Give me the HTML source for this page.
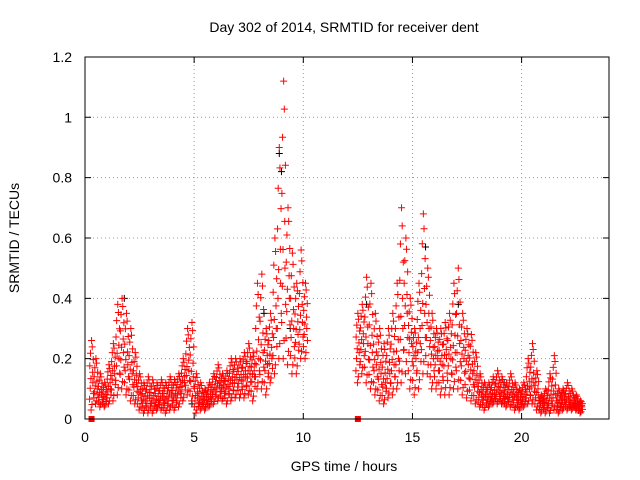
<!DOCTYPE html>
<html><head><meta charset="utf-8"><style>
body{margin:0;background:#fff;}
svg{display:block;font-family:"Liberation Sans",sans-serif;}
</style></head><body>
<svg id="chart" width="640" height="480" viewBox="0 0 640 480">
<rect width="640" height="480" fill="#fff"/>
<text x="344" y="32" font-size="14" text-anchor="middle">Day 302 of 2014, SRMTID for receiver dent</text>
<text x="344" y="471" font-size="14" text-anchor="middle">GPS time / hours</text>
<text transform="translate(19,238) rotate(-90)" font-size="14" text-anchor="middle">SRMTID / TECUs</text>
<g id="grid"></g>
<g id="marks"></g>
<rect x="85" y="57" width="524" height="362" fill="none" stroke="#000" stroke-width="1"/>
<g id="ticks"></g>
</svg>
<script>
const xTicks=[0,5,10,15,20];
const yTicks=[0,0.2,0.4,0.6,0.8,1,1.2];
const yTickLabels=["0","0.2","0.4","0.6","0.8","1","1.2"];
const startHour=0.3, stepHour=0.2;
const hi=[.26,.2,.15,.12,.18,.25,.38,.4,.35,.3,.22,.15,.12,.14,.13,.12,.13,.12,.14,.13,.15,.2,.3,.32,.15,.12,.1,.12,.15,.18,.15,.16,.2,.2,.2,.22,.25,.22,.45,.48,.3,.35,.6,.9,1.12,.7,.55,.45,.56,.45,
null,null,null,null,null,null,null,null,null,null,null,
.35,.38,.47,.45,.35,.3,.25,.3,.35,.45,.7,.6,.4,.3,.45,.68,.5,.35,.3,.3,.32,.35,.45,.5,.35,.3,.28,.22,.15,.12,.12,.14,.16,.14,.12,.15,.12,.1,.12,.2,.25,.16,.08,.1,.15,.21,.1,.1,.12,.1,.08,.06];
const mid=[.12,.1,.08,.07,.1,.15,.2,.22,.18,.15,.12,.08,.06,.07,.06,.06,.07,.06,.08,.07,.09,.12,.16,.14,.07,.06,.06,.07,.09,.11,.1,.1,.12,.13,.13,.14,.15,.14,.2,.22,.18,.2,.3,.45,.5,.4,.3,.28,.32,.3,
null,null,null,null,null,null,null,null,null,null,null,
.22,.25,.25,.22,.18,.15,.12,.15,.18,.2,.3,.35,.25,.2,.25,.35,.3,.2,.2,.18,.2,.2,.22,.25,.2,.18,.15,.12,.08,.07,.07,.08,.09,.08,.07,.08,.07,.06,.07,.1,.12,.08,.05,.05,.06,.08,.05,.06,.06,.05,.05,.04];
const lo=[.03,.05,.04,.04,.05,.06,.08,.1,.08,.06,.05,.03,.02,.02,.02,.03,.03,.02,.03,.03,.04,.06,.08,.06,.02,.03,.03,.04,.05,.06,.06,.05,.06,.07,.07,.07,.08,.06,.1,.1,.08,.12,.15,.2,.2,.18,.15,.15,.2,.2,
null,null,null,null,null,null,null,null,null,null,null,
.12,.15,.12,.1,.08,.06,.05,.07,.08,.1,.12,.15,.1,.08,.1,.15,.15,.1,.1,.08,.08,.08,.1,.1,.08,.07,.06,.05,.04,.03,.04,.05,.05,.05,.04,.04,.03,.03,.04,.05,.05,.03,.02,.02,.02,.03,.02,.03,.03,.03,.03,.02];
const blackHours=[1.8,4.9,8.2,8.9,9.0,9.4,12.9,15.6,17.1,19.2];
const blackVals=[.4,.05,.35,.88,.82,.3,.38,.57,.38,.12];
const squareHours=[0.3,12.5];
const squareVals=[0,0];
const X=h=>85+h*21.83, Y=v=>419-v*301.7;
const NS="http://www.w3.org/2000/svg";
const grid=document.getElementById('grid'),marks=document.getElementById('marks'),ticks=document.getElementById('ticks');
function mk(tag,attrs,parent){const e=document.createElementNS(NS,tag);for(const k in attrs)e.setAttribute(k,attrs[k]);parent.appendChild(e);return e;}
xTicks.forEach((t,i)=>{
 if(t>0){const g=mk('line',{x1:X(t),x2:X(t),y1:57,y2:419,stroke:'#999','stroke-dasharray':'1,3'},grid);
 
 }
 const tl=mk('path',{d:`M${X(t)},419v-6M${X(t)},57v6`,stroke:'#000'},ticks);
 
 
 const tx=mk('text',{x:X(t),y:442,'font-size':14,'text-anchor':'middle'},ticks);tx.textContent=String(t);
 
 
});
yTicks.forEach((t,i)=>{
 if(t>0&&t<1.2){const g=mk('line',{x1:85,x2:609,y1:Y(t),y2:Y(t),stroke:'#999','stroke-dasharray':'1,3'},grid);
 
 }
 const tl=mk('path',{d:`M85,${Y(t)}h6M609,${Y(t)}h-6`,stroke:'#000'},ticks);
 
 
 const tx=mk('text',{x:72,y:Y(t)+5,'font-size':14,'text-anchor':'end'},ticks);tx.textContent=yTickLabels[i];
 
 
});
function plus(h,v,color,name){
 const x=X(h),y=Y(v);
 const p=mk('path',{d:`M${x-3.5},${y}h7M${x},${y-3.5}v7`,stroke:color,'stroke-width':1,fill:'none'},marks);
 
 
}
blackHours.forEach((h,i)=>plus(h,blackVals[i],'#000','black-point'));
hi.forEach((v,i)=>{
 if(v===null)return;
 const h=startHour+i*stepHour,m=mid[i],l=lo[i];
 const fr=[[0,1],[0.03,0.85],[-0.05,0.7],[0.08,0.55],[-0.08,0.4],[0.05,0.25],[-0.03,0.1]];
 fr.forEach(([dh,f])=>plus(h+dh,m+(v-m)*f,'#f00','srmtid-point'));
 const fl=[[0.06,0],[-0.06,0.2],[0.09,0.4],[-0.09,0.6],[0.02,0.8],[-0.02,1]];
 fl.forEach(([dh,f])=>plus(h+dh,m+(l-m)*f,'#f00','srmtid-point'));
});
squareHours.forEach((h,i)=>{
 const s=mk('rect',{x:X(h)-3,y:Y(squareVals[i])-3,width:6,height:6,fill:'#f00'},marks);
 
 
});
</script>
</body></html>
